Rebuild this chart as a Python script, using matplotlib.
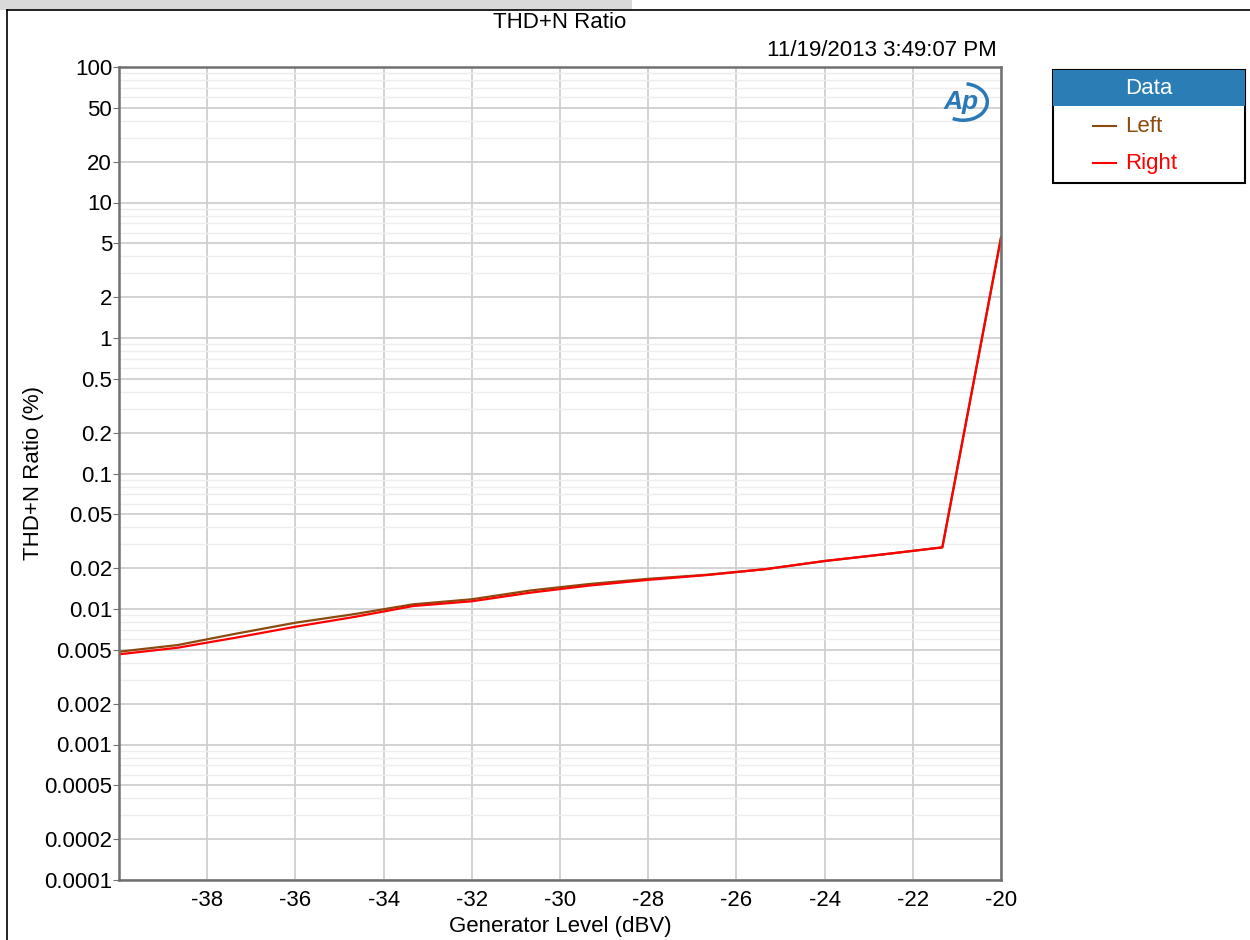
import matplotlib
matplotlib.use("Agg")
import matplotlib.pyplot as plt
from matplotlib.patches import Rectangle, Arc
from matplotlib.lines import Line2D
from matplotlib.ticker import FixedLocator, FixedFormatter, LogLocator, NullFormatter

plt.rcParams['font.family'] = ['Liberation Sans', 'DejaVu Sans']

# data
level_dbv = [-40, -38.67, -37.33, -36, -34.67, -33.33, -32, -30.67,
             -29.33, -28, -26.67, -25.33, -24, -22.67, -21.33, -20]
left_pct = [0.00484, 0.00542, 0.00659, 0.00792, 0.00916, 0.01083, 0.0118, 0.0137,
            0.0153, 0.0167, 0.0179, 0.0197, 0.0226, 0.0253, 0.0285, 5.5]
right_pct = [0.00463, 0.00518, 0.00616, 0.0074, 0.00873, 0.01052, 0.0114, 0.0132,
             0.0149, 0.0164, 0.0178, 0.0197, 0.0226, 0.0253, 0.0285, 5.5]

x_ticks = [-38, -36, -34, -32, -30, -28, -26, -24, -22, -20]
y_ticks = [100, 50, 20, 10, 5, 2, 1, 0.5, 0.2, 0.1, 0.05, 0.02, 0.01,
           0.005, 0.002, 0.001, 0.0005, 0.0002, 0.0001]
y_labels = ['100', '50', '20', '10', '5', '2', '1', '0.5', '0.2', '0.1', '0.05', '0.02',
            '0.01', '0.005', '0.002', '0.001', '0.0005', '0.0002', '0.0001']

brown = '#8B4A0E'
red = '#FF0000'
fs = 16

fig = plt.figure(figsize=(12.5, 9.4), dpi=100)

# outer frame bits
fig.patches.append(Rectangle((0, 1 - 10/940), 632/1250, 10/940, transform=fig.transFigure,
                             facecolor='#d9d9d9', edgecolor='none'))
fig.add_artist(Line2D([7/1250, 1], [1 - 10/940, 1 - 10/940], color='black', lw=1.2))
fig.add_artist(Line2D([7/1250, 7/1250], [0, 1 - 10/940], color='black', lw=1.2))

ax = fig.add_axes([119/1250, 1 - 880/940, (1001 - 119)/1250, (880 - 67)/940])
ax.set_yscale('log')
ax.set_xlim(-40, -20)
ax.set_ylim(1e-4, 100)

ax.plot(level_dbv, left_pct, color=brown, lw=1.6)
ax.plot(level_dbv, right_pct, color=red, lw=1.6)

ax.xaxis.set_major_locator(FixedLocator(x_ticks))
ax.set_xticklabels([str(v) for v in x_ticks], fontsize=fs)
ax.yaxis.set_major_locator(FixedLocator(y_ticks))
ax.yaxis.set_major_formatter(FixedFormatter(y_labels))
ax.yaxis.set_minor_locator(LogLocator(base=10, subs=[3, 4, 6, 7, 8, 9]))
ax.yaxis.set_minor_formatter(NullFormatter())
ax.tick_params(axis='both', which='major', labelsize=fs, length=4, color='#707070', pad=1)
ax.tick_params(axis='y', which='minor', length=0)
ax.tick_params(axis='x', length=0, pad=7)

ax.grid(True, which='major', color='#cfcfcf', lw=1.3)
ax.grid(True, which='minor', axis='y', color='#ededed', lw=1.0)
ax.set_axisbelow(True)
for s in ax.spines.values():
    s.set_color('#707070')
    s.set_linewidth(1.8)

ax.set_xlabel('Generator Level (dBV)', fontsize=fs, labelpad=4)
ax.set_ylabel('THD+N Ratio (%)', fontsize=fs, labelpad=0)

fig.text(560/1250, 1 - 22/940, 'THD+N Ratio', fontsize=fs, ha='center', va='center')
fig.text(997/1250, 1 - 50/940, '11/19/2013 3:49:07 PM', fontsize=fs, ha='right', va='center')

# AP logo
ax.text(0.955, 0.957, 'Ap', transform=ax.transAxes, fontsize=19, fontweight='bold',
        fontstyle='italic', color='#2a78b6', ha='center', va='center')
ax.add_patch(Arc((0.957, 0.957), 0.055, 0.045, theta1=-120, theta2=80, transform=ax.transAxes,
                 color='#2a78b6', lw=2.5))

# legend box
lx0, lx1 = 1053/1250, 1245/1250
ly0, ly1 = 1 - 183/940, 1 - 70/940
fig.patches.append(Rectangle((lx0, ly0), lx1 - lx0, ly1 - ly0, transform=fig.transFigure,
                             facecolor='white', edgecolor='black', lw=1.5))
fig.patches.append(Rectangle((lx0, 1 - 106/940), lx1 - lx0, 36/940, transform=fig.transFigure,
                             facecolor='#2b7db5', edgecolor='none'))
fig.text((lx0 + lx1) / 2, 1 - 88/940, 'Data', color='white', fontsize=fs, ha='center', va='center')
for name, col, yy in [('Left', brown, 126), ('Right', red, 163)]:
    fig.add_artist(Line2D([1093/1250, 1116/1250], [1 - yy/940, 1 - yy/940], color=col, lw=1.5))
    fig.text(1125/1250, 1 - yy/940, name, color=col, fontsize=fs, ha='left', va='center')

fig.savefig('out.png', dpi=100)
